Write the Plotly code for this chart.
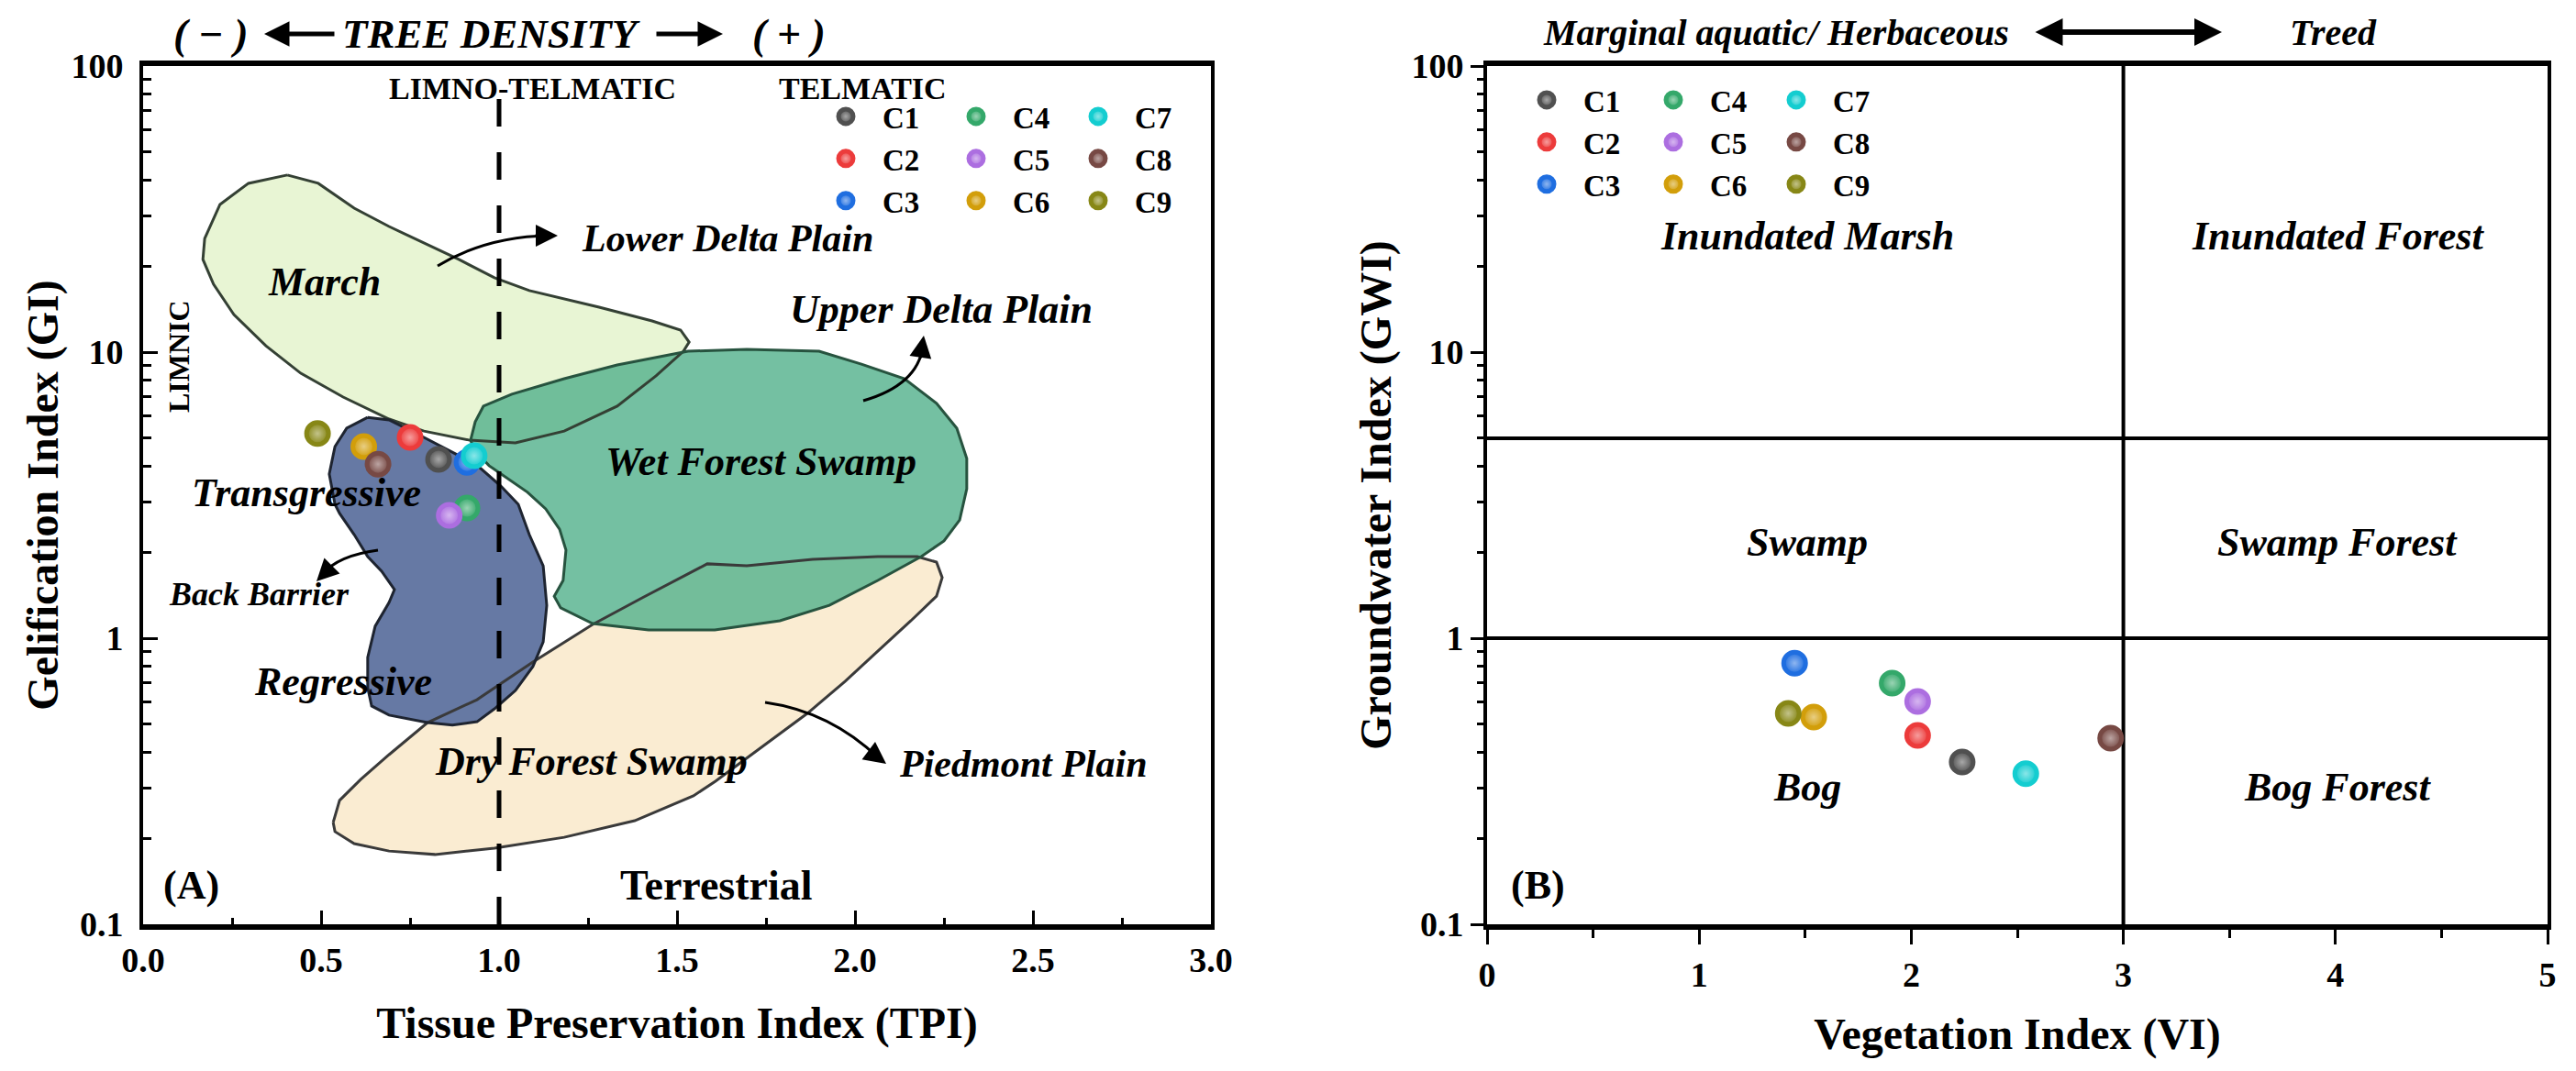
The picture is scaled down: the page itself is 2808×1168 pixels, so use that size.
import math
import plotly.graph_objects as go

# ---------------- data ----------------
samples = ["C1", "C2", "C3", "C4", "C5", "C6", "C7", "C8", "C9"]
sample_colors = ["#505050", "#EC3B3B", "#1F6EE0", "#34A86A", "#AC6EE0",
                 "#D29E0A", "#14CDD0", "#774944", "#878716"]

# Panel A : TPI vs GI
tpi = [0.83, 0.75, 0.91, 0.91, 0.86, 0.62, 0.93, 0.66, 0.49]
gi = [4.22, 5.03, 4.12, 2.85, 2.69, 4.68, 4.34, 4.06, 5.19]

# Panel B : VI vs GWI
vi = [2.24, 2.03, 1.45, 1.91, 2.03, 1.54, 2.54, 2.94, 1.42]
gwi = [0.369, 0.457, 0.818, 0.697, 0.601, 0.530, 0.336, 0.447, 0.546]

tpi_ticks = [0.0, 0.5, 1.0, 1.5, 2.0, 2.5, 3.0]
vi_ticks = [0, 1, 2, 3, 4, 5]
log_ticks = [0.1, 1, 10, 100]
log_tick_labels = ["0.1", "1", "10", "100"]

# facies fields of panel A (TPI, log10 GI)
march_tpi = [0.405, 0.296, 0.216, 0.173, 0.168, 0.198, 0.255, 0.345, 0.443, 0.562, 0.691, 0.789,
             0.918, 1.046, 1.183, 1.332, 1.441, 1.518, 1.534, 1.510, 1.430, 1.281, 1.085, 0.987,
             0.887, 0.789, 0.691, 0.593, 0.492]
march_log_gi = [1.619, 1.590, 1.516, 1.397, 1.324, 1.237, 1.131, 1.022, 0.926, 0.843, 0.766, 0.724,
                0.692, 0.683, 0.724, 0.811, 0.917, 1.003, 1.035, 1.077, 1.109, 1.157, 1.215, 1.260,
                1.324, 1.381, 1.439, 1.503, 1.590]

barrier_tpi = [0.631, 0.572, 0.539, 0.523, 0.539, 0.552, 0.593, 0.631, 0.670, 0.706, 0.691, 0.652,
               0.631, 0.631, 0.642, 0.691, 0.799, 0.869, 0.938, 0.987, 1.046, 1.095, 1.124, 1.134,
               1.124, 1.085, 1.054, 1.005, 0.946, 0.887, 0.789, 0.691]
barrier_log_gi = [0.772, 0.734, 0.670, 0.574, 0.468, 0.436, 0.362, 0.285, 0.234, 0.170, 0.125, 0.042,
                  -0.067, -0.173, -0.237, -0.269, -0.295, -0.304, -0.292, -0.247, -0.183, -0.099,
                  -0.013, 0.115, 0.253, 0.362, 0.468, 0.532, 0.596, 0.638, 0.702, 0.763]

wet_tpi = [0.920, 0.933, 0.956, 1.036, 1.183, 1.332, 1.531, 1.696, 1.899, 2.018, 2.139, 2.229,
           2.286, 2.314, 2.314, 2.294, 2.250, 2.186, 2.064, 1.928, 1.789, 1.606, 1.420, 1.263,
           1.173, 1.155, 1.180, 1.188, 1.170, 1.131, 1.080, 1.023, 0.972, 0.933]
wet_log_gi = [0.692, 0.756, 0.811, 0.853, 0.907, 0.955, 1.003, 1.010, 1.003, 0.958, 0.907, 0.821,
              0.734, 0.628, 0.522, 0.413, 0.340, 0.285, 0.202, 0.115, 0.061, 0.029, 0.029, 0.051,
              0.106, 0.147, 0.202, 0.308, 0.381, 0.452, 0.510, 0.558, 0.603, 0.654]

dry_tpi = [0.534, 0.552, 0.611, 0.691, 0.799, 0.938, 1.095, 1.263, 1.402, 1.585, 1.696, 1.881,
           2.064, 2.175, 2.229, 2.245, 2.229, 2.157, 2.064, 1.972, 1.866, 1.737, 1.608, 1.546,
           1.381, 1.183, 0.987, 0.820, 0.691, 0.593, 0.539]
dry_log_gi = [-0.644, -0.567, -0.494, -0.407, -0.295, -0.215, -0.083, 0.048, 0.141, 0.260, 0.253,
              0.276, 0.285, 0.285, 0.266, 0.212, 0.147, 0.061, -0.045, -0.151, -0.263, -0.381,
              -0.500, -0.551, -0.638, -0.696, -0.734, -0.756, -0.744, -0.718, -0.676]

tpi_boundary = 1.0
vi_boundary = 3
gwi_boundaries = [5, 1]

# ---------------- helpers ----------------
# the page body keeps its default 8px margin, so the figure is drawn 8px in
PAGE_OFF = 8
FW, FH = 2808 - 2 * PAGE_OFF, 1168 - 2 * PAGE_OFF
FONT = "Liberation Serif"


def px(x):
    return (x - PAGE_OFF) / FW


def py(y):
    return 1 - (y - PAGE_OFF) / FH


def lighten(hexcol, f):
    r, g, b = (int(hexcol[i:i + 2], 16) for i in (1, 3, 5))
    r, g, b = (round(c + (255 - c) * f) for c in (r, g, b))
    return f"rgb({r},{g},{b})"


fig = go.Figure()

# facies fills
fields = [
    (dry_tpi, dry_log_gi, "rgba(250,236,210,1)", "#3a3a3a"),
    (march_tpi, march_log_gi, "rgba(232,245,212,1)", "#344034"),
    (barrier_tpi, barrier_log_gi, "rgba(96,116,160,0.96)", "#1e2430"),
    (wet_tpi, wet_log_gi, "rgba(86,178,142,0.82)", "#27533f"),
]
for fx, fl, fc, lc in fields:
    fig.add_trace(go.Scatter(x=fx, y=[10 ** v for v in fl], mode="lines", fill="toself",
                             fillcolor=fc, line=dict(width=0), hoverinfo="skip",
                             showlegend=False, xaxis="x", yaxis="y"))
for fx, fl, fc, lc in fields:
    fig.add_trace(go.Scatter(x=fx + fx[:1], y=[10 ** v for v in fl + fl[:1]], mode="lines",
                             line=dict(width=3, color=lc), hoverinfo="skip",
                             showlegend=False, xaxis="x", yaxis="y"))

# panel B boundaries
fig.add_trace(go.Scatter(x=[vi_boundary, vi_boundary], y=[0.1, 100], mode="lines",
                         line=dict(color="black", width=4), showlegend=False,
                         hoverinfo="skip", xaxis="x2", yaxis="y2"))
for g in gwi_boundaries:
    fig.add_trace(go.Scatter(x=[vi_ticks[0], vi_ticks[-1]], y=[g, g], mode="lines",
                             line=dict(color="black", width=4), showlegend=False,
                             hoverinfo="skip", xaxis="x2", yaxis="y2"))


def sphere(col):
    return dict(size=24, color=col,
                gradient=dict(type="radial", color=lighten(col, 0.5)),
                line=dict(width=5, color=col))


# sample points
for i, name in enumerate(samples):
    fig.add_trace(go.Scatter(x=[tpi[i]], y=[gi[i]], mode="markers", name=name,
                             marker=sphere(sample_colors[i]),
                             legend="legend" if i < 3 else f"legend{i // 3 + 1}",
                             xaxis="x", yaxis="y"))
for i, name in enumerate(samples):
    fig.add_trace(go.Scatter(x=[vi[i]], y=[gwi[i]], mode="markers", name=name,
                             marker=sphere(sample_colors[i]),
                             legend=f"legend{i // 3 + 4}", xaxis="x2", yaxis="y2"))

# ---------------- axes ----------------
tickfont = dict(family=FONT, size=38, color="black", weight="bold")
titlefont = dict(family=FONT, size=48, color="black", weight="bold")
minor_log = [k * 10 ** e for e in (-1, 0, 1) for k in range(2, 10)]
ydom = [py(1008), py(72)]

common_line = dict(showline=True, linecolor="black", mirror=True, showgrid=False,
                   zeroline=False, tickcolor="black", tickfont=tickfont, automargin=False)

fig.update_layout(
    xaxis=dict(domain=[px(156), px(1320)], range=[0, 3], anchor="y",
               tickvals=tpi_ticks, tickformat=".1f", ticks="inside", ticklen=15, tickwidth=3,
               minor=dict(ticks="inside", ticklen=7, tickwidth=3, dtick=0.25, tick0=0,
                          tickcolor="black"),
               linewidth=6, ticklabelstandoff=0,
               title=dict(text="Tissue Preservation Index (TPI)", font=titlefont, standoff=34),
               **common_line),
    yaxis=dict(domain=ydom, type="log", range=[-1, 2], anchor="x",
               tickvals=log_ticks, ticktext=log_tick_labels, ticks="inside", ticklen=16,
               tickwidth=3, minor=dict(ticks="inside", ticklen=9, tickwidth=3,
                                       tickvals=minor_log, tickcolor="black"),
               linewidth=4, ticklabelstandoff=10,
               title=dict(text="Gelification Index (GI)", font=titlefont, standoff=0),
               **common_line),
    xaxis2=dict(domain=[px(1621), px(2777)], range=[0, 5], anchor="y2",
                tickvals=vi_ticks, ticks="outside", ticklen=16, tickwidth=3,
                minor=dict(ticks="outside", ticklen=9, tickwidth=3, dtick=0.5, tick0=0,
                           tickcolor="black"),
                linewidth=6, ticklabelstandoff=0,
                title=dict(text="Vegetation Index (VI)", font=titlefont, standoff=30),
                **common_line),
    yaxis2=dict(domain=ydom, type="log", range=[-1, 2], anchor="x2",
                tickvals=log_ticks, ticktext=log_tick_labels, ticks="outside", ticklen=14,
                tickwidth=3, minor=dict(ticks="outside", ticklen=7, tickwidth=3,
                                        tickvals=minor_log, tickcolor="black"),
                linewidth=4,
                title=dict(text="Groundwater Index (GWI)", font=titlefont, standoff=8),
                **common_line),
)

# ---------------- legends ----------------
legfont = dict(family=FONT, size=33, color="black", weight="bold")
leg_pos = {"legend": (922, 128), "legend2": (1064, 128), "legend3": (1197, 128),
           "legend4": (1686, 110), "legend5": (1824, 110), "legend6": (1958, 110)}
for key, (lx, ly) in leg_pos.items():
    fig.layout[key] = dict(x=px(lx - 40), y=py(ly - 29), xanchor="left", yanchor="top",
                           xref="paper", yref="paper", bgcolor="rgba(0,0,0,0)",
                           font=legfont, itemsizing="trace", itemwidth=70,
                           tracegroupgap=0, borderwidth=0)

# ---------------- annotations ----------------
ann = []


def text(t, x, y, size=44, bi=True, anchor="center", angle=0):
    s = f"<b><i>{t}</i></b>" if bi else f"<b>{t}</b>"
    ann.append(dict(text=s, x=px(x), y=py(y), xref="paper", yref="paper", showarrow=False,
                    xanchor=anchor, yanchor="middle", textangle=angle,
                    font=dict(family=FONT, size=size, color="black")))


def arrowhead(x, y, ax, ay, width=3, size=1.6, side="end"):
    ann.append(dict(text="", x=px(x), y=py(y), xref="paper", yref="paper", showarrow=True,
                    ax=ax, ay=ay, arrowhead=2, arrowsize=size, arrowwidth=width,
                    arrowcolor="black", arrowside=side))


# panel A header
text("( − )", 230, 37, 46)
text("TREE DENSITY", 535, 37, 45)
text("( + )", 860, 37, 46)
arrowhead(288, 37, 78, 0, width=5, size=1.1)
arrowhead(788, 37, -74, 0, width=5, size=1.1)

text("LIMNO-TELMATIC", 580, 97, 34, bi=False)
text("TELMATIC", 940, 97, 34, bi=False)
text("LIMNIC", 195, 389, 32, bi=False, angle=-90)
text("March", 353, 307)
text("Lower Delta Plain", 632, 260, 42, anchor="left")
text("Upper Delta Plain", 859, 337, 44, anchor="left")
text("Wet Forest Swamp", 829, 503)
text("Transgressive", 334, 537)
text("Back Barrier", 282, 648, 36)
text("Regressive", 374, 743)
text("Dry Forest Swamp", 644, 830)
text("Piedmont Plain", 978, 833, 42, anchor="left")
text("Terrestrial", 781, 965, 46, bi=False)
text("(A)", 208, 965, 44, bi=False)

# panel B header and fields
text("Marginal aquatic/ Herbaceous", 1936, 35, 40)
text("Treed", 2543, 35, 40)
arrowhead(2422, 35, -205, 0, width=6, size=1.0, side="end+start")
text("Inundated Marsh", 1970, 257)
text("Inundated Forest", 2548, 257)
text("Swamp", 1970, 591)
text("Swamp Forest", 2548, 591)
text("Bog", 1970, 858)
text("Bog Forest", 2548, 858)
text("(B)", 1676, 965, 44, bi=False)

# curved arrows of panel A
arrowhead(608, 257, -26, 0)
arrowhead(1007, 366, -4, 26)
arrowhead(345, 634, 12, -12)
arrowhead(966, 833, -16, -12)

curves = [
    (477, 290, 530, 258, 598, 257),
    (941, 437, 1000, 420, 1006, 378),
    (412, 600, 368, 606, 352, 626),
    (834, 766, 905, 776, 958, 827),
]
shapes = []
for x0, y0, cx, cy, x1, y1 in curves:
    shapes.append(dict(type="path", xref="paper", yref="paper",
                       path=f"M {px(x0)},{py(y0)} Q {px(cx)},{py(cy)} {px(x1)},{py(y1)}",
                       line=dict(color="black", width=3)))
shapes.append(dict(type="line", xref="x", yref="y domain", x0=tpi_boundary, x1=tpi_boundary,
                   y0=0, y1=0.975, line=dict(color="black", width=5, dash="30px,28px")))

fig.update_layout(width=FW, height=FH, margin=dict(l=0, r=0, t=0, b=0, autoexpand=False),
                  paper_bgcolor="white", plot_bgcolor="white",
                  annotations=ann, shapes=shapes, font=dict(family=FONT, color="black"))

fig.write_html("out.html")
